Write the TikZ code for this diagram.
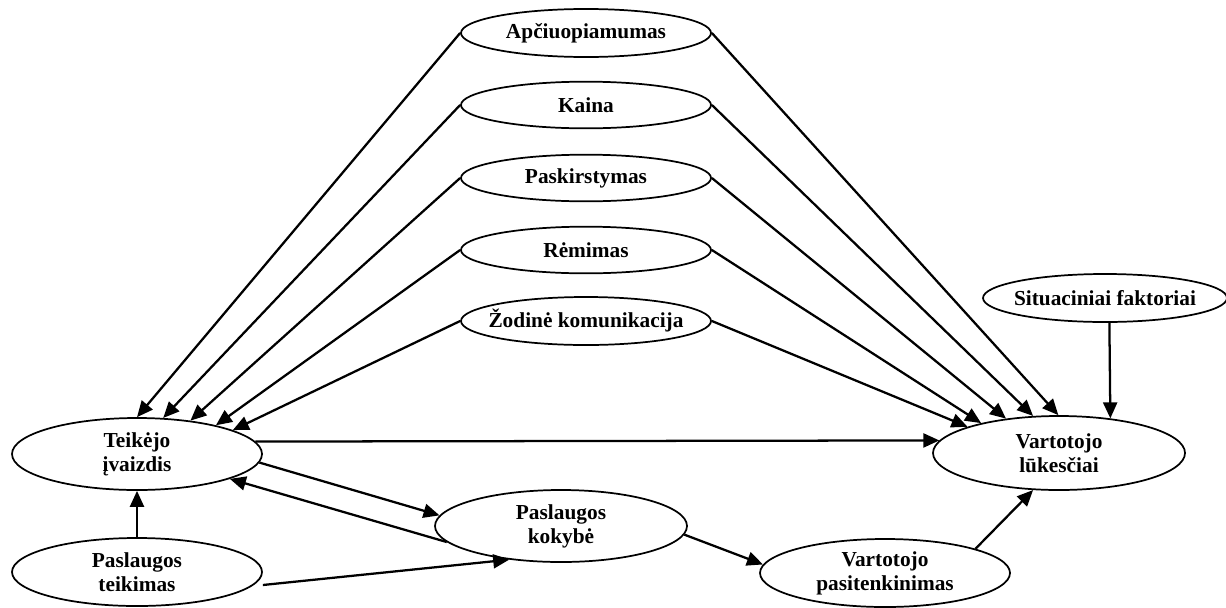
\documentclass[tikz,border=0pt]{standalone}
\usepackage{fontspec}
\setmainfont{Liberation Serif}
\usetikzlibrary{shapes.geometric,arrows.meta,calc}
\begin{document}
\begin{tikzpicture}[x=0.75pt,y=-0.75pt,
  oval/.style={draw,ellipse,line width=1.3pt,inner sep=0pt},
  flat/.style={oval,minimum width=187.5pt,minimum height=35pt},
  tall/.style={oval,minimum width=187.5pt,minimum height=53pt},
  lbl/.style={font=\fontsize{16}{18}\selectfont\bfseries,align=center,inner sep=0pt},
  arr/.style={line width=1.7pt,-{Triangle[length=12pt,width=10.5pt]}},
  ]
\fill[white] (0,0) rectangle (1226,607);
\useasboundingbox (0,0) rectangle (1226,607);

% marketing mix factors
\node[flat,minimum height=36pt] (apc)  at (586,33)  {};
\node[flat] (kaina) at (586,105) {};
\node[flat] (pask)  at (586,178) {};
\node[flat] (rem)   at (586,250) {};
\node[flat,minimum height=36pt] (zod)  at (586,321) {};
\node[flat,minimum width=183pt,minimum height=36pt] (sit) at (1105,298) {};

% main concepts
\node[tall,minimum height=54pt] (teik) at (137,454) {};
\node[tall,minimum width=189pt,minimum height=55.5pt] (luk) at (1059,453) {};
\node[tall,minimum width=189pt,minimum height=54pt] (kok) at (561,526) {};
\node[tall,minimum height=51pt] (teikimas) at (137,572) {};
\node[tall,minimum height=51pt] (pasit) at (885,573) {};

% labels
\node[lbl] (tApc)  at (apc)   {Apčiuopiamumas};
\node[lbl] (tKain) at (kaina) {Kaina};
\node[lbl] (tPask) at (pask)  {Paskirstymas};
\node[lbl] (tRem)  at (rem)   {Rėmimas};
\node[lbl] (tZod)  at (zod)   {Žodinė komunikacija};
\node[lbl] (tSit)  at (sit)   {Situaciniai faktoriai};
\node[lbl] (tTeik) at (teik)  {Teikėjo\\įvaizdis};
\node[lbl] (tLuk)  at (luk)   {Vartotojo\\lūkesčiai};
\node[lbl] (tKok)  at (kok)   {Paslaugos\\kokybė};
\node[lbl] (tTmas) at (teikimas) {Paslaugos\\teikimas};
\node[lbl] (tPas)  at (pasit) {Vartotojo\\pasitenkinimas};

% factors -> provider image
\draw[arr] (apc.west)   -- (teik.90);
\draw[arr] (kaina.west) -- (teik.54.7);
\draw[arr] (pask.west)  -- (teik.32.8);
\draw[arr] (rem.west)   -- (teik.20.6);
\draw[arr] (zod.west)   -- (teik.14.5);

% factors -> customer expectations
\draw[arr] (apc.east)   -- (luk.91);
\draw[arr] (kaina.east) -- (luk.125.7);
\draw[arr] (pask.east)  -- (luk.147);
\draw[arr] (rem.east)   -- (luk.159.2);
\draw[arr] (zod.east)   -- (luk.164.3);
\draw[arr] (sit.-80.5)  -- (luk.34.2);

% lower relations
\draw[arr] (teik.6.4) -- (luk.174.3);
\draw[arr] (teik.-4.8) -- (kok.175.25);
\draw[arr] (kok.-172.3) -- (teik.-15.9);
\draw[arr] (teikimas.north) -- (teik.south);
\draw[arr] ($(teikimas.east)+(0,13)$) -- (kok.-147.2);
\draw[arr] (kok.-4.75) -- (pasit.176.5);
\draw[arr] (pasit.15.3) -- (luk.-125.7);
\end{tikzpicture}
\end{document}
